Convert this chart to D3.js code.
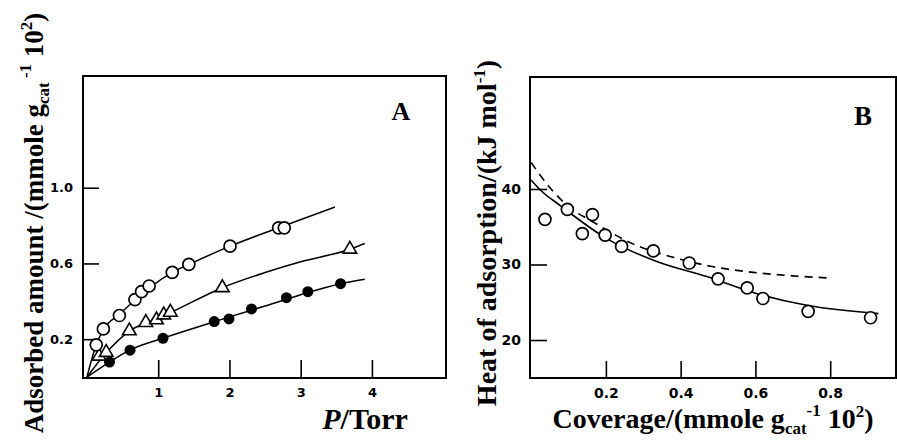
<!DOCTYPE html>
<html><head><meta charset="utf-8">
<script src="https://cdn.jsdelivr.net/npm/d3@7/dist/d3.min.js"></script>
<style>
body{margin:0;background:#fff;}
svg{display:block;}
.tick text{font-family:"DejaVu Sans",sans-serif;font-weight:bold;fill:#000;}
.ttl{font-family:"Liberation Serif","Times New Roman",serif;font-weight:bold;fill:#000;}
</style></head>
<body>
<svg id="c" width="897" height="447"></svg>
<script>
// ---------- Panel A data: adsorption isotherms ----------
const aTicksX = [1, 2, 3, 4];
const aTicksY = [0.2, 0.6, 1.0];
const openP  = [0.13, 0.23, 0.455, 0.673, 0.766, 0.872, 1.197, 1.43, 2.008, 2.69, 2.77];
const openQ  = [0.17, 0.254, 0.325, 0.409, 0.451, 0.481, 0.553, 0.595, 0.691, 0.788, 0.788];
const triP   = [0.17, 0.27, 0.594, 0.826, 0.975, 1.077, 1.17, 1.90, 3.69];
const triQ   = [0.11, 0.13, 0.244, 0.288, 0.302, 0.328, 0.342, 0.472, 0.675];
const fillP  = [0.316, 0.604, 1.067, 1.786, 1.994, 2.31, 2.80, 3.10, 3.56];
const fillQ  = [0.079, 0.142, 0.205, 0.293, 0.307, 0.360, 0.419, 0.451, 0.493];
// fitted curves
const openFitP = [0, 0.13, 0.23, 0.45, 0.7, 0.9, 1.2, 1.45, 2.0, 2.7, 3.48];
const openFitQ = [0, 0.17, 0.25, 0.33, 0.415, 0.478, 0.553, 0.598, 0.69, 0.79, 0.898];
const triFitP  = [0, 0.27, 0.6, 1.0, 1.2, 1.9, 2.5, 3.0, 3.69, 3.9];
const triFitQ  = [0, 0.128, 0.244, 0.31, 0.345, 0.472, 0.552, 0.609, 0.675, 0.705];
const fillFitP = [0, 0.316, 0.6, 1.067, 1.5, 2.0, 2.5, 3.0, 3.56, 3.9];
const fillFitQ = [0, 0.079, 0.142, 0.205, 0.258, 0.318, 0.375, 0.435, 0.493, 0.517];

// ---------- Panel B data: heat of adsorption ----------
const bTicksX = [0.2, 0.4, 0.6, 0.8];
const bTicksY = [20, 30, 40];
const covPts  = [0.037, 0.097, 0.137, 0.164, 0.198, 0.242, 0.327, 0.423, 0.50, 0.578, 0.62, 0.741, 0.908];
const heatPts = [35.98, 37.3, 34.1, 36.6, 33.9, 32.4, 31.8, 30.2, 28.1, 26.9, 25.5, 23.8, 22.95];
const solidCov  = [0, 0.024, 0.078, 0.2, 0.336, 0.47, 0.6, 0.737, 0.929];
const solidHeat = [41.2, 39.9, 37.8, 33.5, 30.4, 28.4, 26.2, 24.6, 23.5];
const dashCov   = [0, 0.05, 0.097, 0.167, 0.274, 0.38, 0.487, 0.594, 0.70, 0.804];
const dashHeat  = [43.5, 40.2, 37.8, 35.6, 32.7, 30.95, 29.7, 28.96, 28.5, 28.2];

const svg = d3.select("#c");
const zip = (xs, ys) => xs.map((x, i) => [x, ys[i]]);

function frame(g, x0, y0, x1, y1){
  g.append("rect").attr("x", x0).attr("y", y0).attr("width", x1 - x0).attr("height", y1 - y0)
   .attr("fill", "none").attr("stroke", "#000").attr("stroke-width", 2);
}
function styleAxis(sel, fs){
  sel.select(".domain").remove();
  sel.selectAll(".tick line").attr("stroke", "#000").attr("stroke-width", 1.6);
  sel.selectAll(".tick text").style("font-size", fs + "px");
}

// ================= Panel A =================
const xA = d3.scaleLinear().domain([-0.056, 5.04]).range([83, 446]);
const yA = d3.scaleLinear().domain([-0.005, 1.59]).range([378, 76]);
const gA = svg.append("g");

gA.append("g").attr("transform", "translate(83,0)")
  .call(d3.axisLeft(yA).tickValues(aTicksY).tickSize(-16).tickPadding(10).tickFormat(d3.format(".1f")))
  .call(s => styleAxis(s, 13));
gA.append("g").attr("transform", "translate(0,378)")
  .call(d3.axisBottom(xA).tickValues(aTicksX).tickSize(-18).tickPadding(10).tickFormat(d3.format("d")))
  .call(s => styleAxis(s, 13));
frame(gA, 83, 76, 446, 378);

const lineA = d3.line().x(d => xA(d[0])).y(d => yA(d[1])).curve(d3.curveMonotoneX);
[[openFitP, openFitQ], [triFitP, triFitQ], [fillFitP, fillFitQ]].forEach(([p, q]) => {
  gA.append("path").attr("d", lineA(zip(p, q))).attr("fill", "none").attr("stroke", "#000").attr("stroke-width", 1.5);
});
gA.selectAll(".fc").data(zip(fillP, fillQ)).join("circle")
  .attr("cx", d => xA(d[0])).attr("cy", d => yA(d[1])).attr("r", 5.5).attr("fill", "#000");
gA.selectAll(".tr").data(zip(triP, triQ)).join("path")
  .attr("transform", d => `translate(${xA(d[0])},${yA(d[1])})`)
  .attr("d", d3.symbol().type(d3.symbolTriangle).size(80))
  .attr("fill", "#fff").attr("stroke", "#000").attr("stroke-width", 1.6);
gA.selectAll(".oc").data(zip(openP, openQ)).join("circle")
  .attr("cx", d => xA(d[0])).attr("cy", d => yA(d[1])).attr("r", 6)
  .attr("fill", "#fff").attr("stroke", "#000").attr("stroke-width", 1.7);

gA.append("text").attr("class", "ttl").attr("x", 401).attr("y", 120)
  .attr("text-anchor", "middle").style("font-size", "26px").text("A");

const pt = gA.append("text").attr("class", "ttl").attr("x", 365).attr("y", 429)
  .attr("text-anchor", "middle").style("font-size", "30px");
pt.append("tspan").style("font-style", "italic").text("P");
pt.append("tspan").text("/Torr");

const yta = gA.append("text").attr("class", "ttl")
  .attr("transform", "translate(43,223) rotate(-90)")
  .attr("text-anchor", "middle").style("font-size", "27px");
yta.append("tspan").text("Adsorbed amount /(mmole g");
yta.append("tspan").attr("dy", 6).style("font-size", "17px").text("cat");
yta.append("tspan").attr("dy", -18).style("font-size", "17px").text(" -1");
yta.append("tspan").attr("dy", 12).text(" 10");
yta.append("tspan").attr("dy", -11).style("font-size", "17px").text("2");
yta.append("tspan").attr("dy", 11).text(")");

// ================= Panel B =================
const xB = d3.scaleLinear().domain([-0.003, 0.976]).range([530, 896]);
const yB = d3.scaleLinear().domain([14.97, 54.83]).range([378, 77]);
const gB = svg.append("g");

gB.append("g").attr("transform", "translate(530,0)")
  .call(d3.axisLeft(yB).tickValues(bTicksY).tickSize(-17).tickPadding(9).tickFormat(d3.format("d")))
  .call(s => styleAxis(s, 14));
gB.append("g").attr("transform", "translate(0,378)")
  .call(d3.axisBottom(xB).tickValues(bTicksX).tickSize(-17).tickPadding(10).tickFormat(d3.format(".1f")))
  .call(s => styleAxis(s, 14));
frame(gB, 530, 77, 896, 378);

const lineB = d3.line().x(d => xB(d[0])).y(d => yB(d[1])).curve(d3.curveMonotoneX);
gB.append("path").attr("d", lineB(zip(solidCov, solidHeat))).attr("fill", "none")
  .attr("stroke", "#000").attr("stroke-width", 1.6);
gB.append("path").attr("d", lineB(zip(dashCov, dashHeat))).attr("fill", "none")
  .attr("stroke", "#000").attr("stroke-width", 1.6).attr("stroke-dasharray", "8,6");
gB.selectAll(".hc").data(zip(covPts, heatPts)).join("circle")
  .attr("cx", d => xB(d[0])).attr("cy", d => yB(d[1])).attr("r", 6)
  .attr("fill", "#fff").attr("stroke", "#000").attr("stroke-width", 1.7);

gB.append("text").attr("class", "ttl").attr("x", 863).attr("y", 125)
  .attr("text-anchor", "middle").style("font-size", "27px").text("B");

const xtb = gB.append("text").attr("class", "ttl").attr("x", 713).attr("y", 428)
  .attr("text-anchor", "middle").style("font-size", "28px");
xtb.append("tspan").text("Coverage/(mmole g");
xtb.append("tspan").attr("dy", 6).style("font-size", "17px").text("cat");
xtb.append("tspan").attr("dy", -18).style("font-size", "17px").text("-1");
xtb.append("tspan").attr("dy", 12).text(" 10");
xtb.append("tspan").attr("dy", -11).style("font-size", "17px").text("2");
xtb.append("tspan").attr("dy", 11).text(")");

const ytb = gB.append("text").attr("class", "ttl")
  .attr("transform", "translate(496,233) rotate(-90)")
  .attr("text-anchor", "middle").style("font-size", "28px");
ytb.append("tspan").text("Heat of adsorption/(kJ mol");
ytb.append("tspan").attr("dy", -11).style("font-size", "17px").text("-1");
ytb.append("tspan").attr("dy", 11).text(")");
</script>
</body></html>
